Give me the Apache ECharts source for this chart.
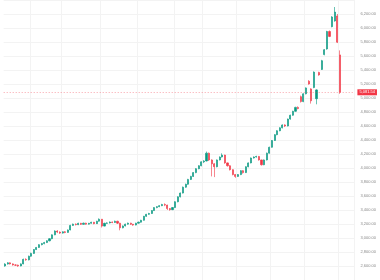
<!DOCTYPE html>
<html>
<head>
<meta charset="utf-8">
<script src="https://cdn.jsdelivr.net/npm/echarts@6/dist/echarts.min.js"></script>
<style>html,body{margin:0;padding:0;background:#fff;}#c{width:380px;height:280px;}</style>
</head>
<body>
<div id="c"></div>
<script>
// [open, close, low, high]
const candles = [
[2600,2628,2590,2640],[2628,2645,2620,2655],[2645,2630,2622,2652],[2630,2615,2605,2638],
[2615,2612,2600,2625],[2612,2600,2588,2620],[2600,2630,2595,2638],[2630,2695,2625,2705],
[2695,2688,2675,2710],[2688,2740,2680,2748],[2740,2780,2732,2790],[2780,2835,2772,2842],
[2835,2865,2828,2872],[2865,2905,2858,2912],[2905,2920,2895,2930],[2920,2935,2910,2945],
[2935,2960,2928,2968],[2960,2990,2952,2998],[2990,3045,2982,3052],[3045,3100,3040,3110],
[3100,3085,3070,3112],[3085,3070,3058,3095],[3070,3088,3062,3096],[3088,3080,3068,3098],
[3080,3115,3075,3122],[3115,3180,3110,3188],[3180,3198,3172,3206],[3198,3190,3180,3208],
[3190,3210,3184,3218],[3210,3195,3186,3216],[3195,3212,3188,3220],[3212,3198,3190,3218],
[3198,3210,3192,3216],[3210,3225,3204,3232],[3225,3205,3196,3230],[3205,3240,3200,3246],
[3240,3268,3234,3280],[3268,3170,3150,3272],[3170,3210,3165,3218],[3210,3215,3200,3224],
[3215,3228,3208,3236],[3228,3222,3212,3235],[3222,3240,3216,3248],[3240,3212,3200,3246],
[3212,3145,3110,3218],[3145,3172,3138,3180],[3172,3198,3166,3205],[3198,3212,3190,3220],
[3212,3196,3186,3218],[3196,3185,3175,3202],[3185,3212,3180,3218],[3212,3226,3206,3234],
[3226,3253,3220,3260],[3253,3310,3248,3316],[3310,3338,3302,3345],[3338,3350,3330,3360],
[3350,3392,3344,3398],[3392,3434,3386,3440],[3434,3448,3426,3456],[3448,3462,3440,3470],
[3462,3478,3455,3488],[3478,3470,3455,3495],[3470,3420,3400,3476],[3420,3405,3390,3428],
[3405,3435,3398,3442],[3435,3518,3430,3525],[3518,3588,3510,3595],[3588,3642,3580,3650],
[3642,3726,3636,3735],[3726,3768,3718,3776],[3768,3837,3760,3845],[3837,3880,3828,3888],
[3880,3934,3872,3942],[3934,3990,3926,3998],[3990,4032,3982,4040],[4032,4088,4025,4096],
[4088,4100,4070,4112],[4100,4212,4095,4235],[4212,4115,4100,4220],[4115,4060,3880,4125],
[4060,4018,3870,4070],[4018,4115,4010,4122],[4115,4157,4108,4166],[4157,4185,4150,4210],
[4185,4073,4060,4190],[4073,4032,4020,4080],[4032,3976,3965,4040],[3976,3906,3895,3982],
[3906,3880,3860,3915],[3880,3906,3872,3914],[3906,3962,3898,3970],[3962,3934,3920,3970],
[3934,4018,3928,4025],[4018,4073,4010,4080],[4073,4143,4066,4150],[4143,4157,4135,4166],
[4157,4165,4148,4175],[4165,4115,4105,4172],[4115,4046,4035,4120],[4046,4115,4040,4122],
[4115,4212,4108,4220],[4212,4296,4205,4305],[4296,4393,4290,4400],[4393,4476,4386,4484],
[4476,4532,4468,4540],[4532,4574,4525,4582],[4574,4615,4566,4624],[4615,4600,4585,4625],
[4600,4699,4594,4706],[4699,4754,4690,4762],[4754,4810,4746,4818],[4810,4866,4802,4875],
[4866,4850,4838,4880],[5019,4949,4935,5035],[4949,5060,4940,5068],[5060,5144,5052,5152],
[5240,5200,5190,5255],[5130,4960,4920,5140],[5150,5370,5140,5380],[4990,5116,4910,5125],
[5366,5330,5318,5375],[5408,5533,5400,5545],[5620,5690,5610,5700],[5700,5950,5690,5960],
[5950,5880,5870,5965],[6019,6158,6010,6170],[6100,6228,6090,6300],[6172,5797,5785,6200],
[5616,5081.54,5060,5680]
];
const padCount = 5;
const categories = [];
for (let i = 0; i < candles.length + padCount; i++) categories.push(String(i));
const seriesData = candles.map(c => c).concat(new Array(padCount).fill('-'));
const timeBreaks = [10, 22, 37, 51, 65, 76, 89, 102, 115, 128];
const yTickMin = 2400, yTickMax = 6400, yTickStep = 200;
const lastPrice = 5081.54;

const fmt = v => Number(v).toLocaleString('en-US', {minimumFractionDigits: 2, maximumFractionDigits: 2});

const chart = echarts.init(document.getElementById('c'), null, {renderer: 'canvas'});
chart.setOption({
  animation: false,
  backgroundColor: '#ffffff',
  grid: {left: 3.7, right: 25.6, top: -4.4, bottom: -3.4},
  xAxis: {
    type: 'category',
    data: categories,
    boundaryGap: true,
    axisLine: {show: false},
    axisTick: {show: false},
    axisLabel: {show: false},
    splitLine: {
      show: true,
      interval: (idx) => timeBreaks.indexOf(idx) >= 0,
      lineStyle: {color: '#f3f3f3', width: 1}
    }
  },
  yAxis: {
    type: 'value',
    position: 'right',
    min: yTickMin, max: yTickMax, interval: yTickStep,
    scale: false,
    axisLine: {show: false},
    axisTick: {show: false},
    splitLine: {show: true, lineStyle: {color: '#f3f3f3', width: 1}},
    axisLabel: {
      show: true, showMinLabel: false, showMaxLabel: false,
      fontSize: 4, color: '#8a8a8a', margin: 6, align: 'left',
      fontFamily: 'Liberation Sans',
      formatter: v => fmt(v)
    }
  },
  series: [{
    type: 'candlestick',
    data: seriesData,
    barWidth: 1.6,
    itemStyle: {
      color: '#089981', color0: '#f23645',
      borderColor: '#089981', borderColor0: '#f23645', borderWidth: 0.6
    },
    markLine: {
      silent: true,
      symbol: ['none', 'none'],
      lineStyle: {color: 'rgba(242,54,69,0.45)', type: [1, 2], width: 1},
      label: {
        show: true, position: 'end', distance: 3,
        formatter: () => fmt(lastPrice),
        backgroundColor: '#f23645', color: '#ffffff', opacity: 1,
        fontSize: 4, padding: [1, 2], fontFamily: 'Liberation Sans'
      },
      data: [{yAxis: lastPrice}]
    }
  }]
});
</script>
</body>
</html>
